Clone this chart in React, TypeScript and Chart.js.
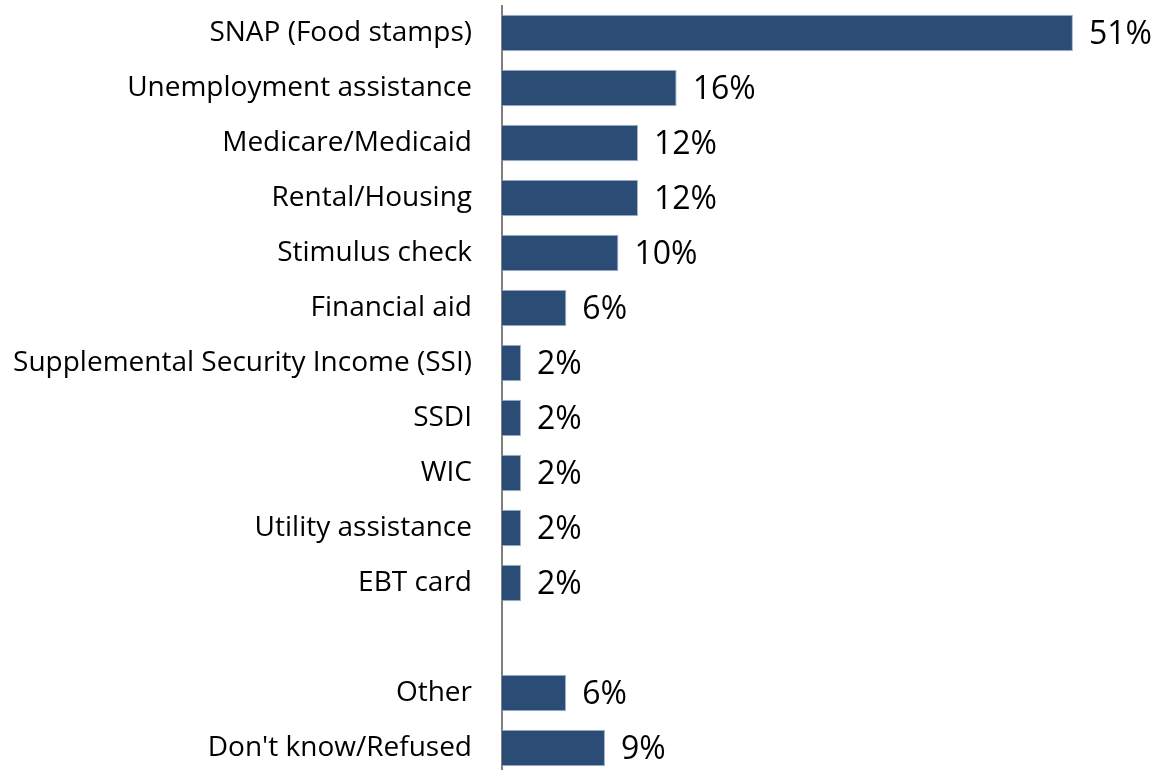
import React, { useEffect, useRef } from "react";
import { Chart, registerables } from "chart.js";

Chart.register(...registerables);

const categories: string[] = [
  "SNAP (Food stamps)",
  "Unemployment assistance",
  "Medicare/Medicaid",
  "Rental/Housing",
  "Stimulus check",
  "Financial aid",
  "Supplemental Security Income (SSI)",
  "SSDI",
  "WIC",
  "Utility assistance",
  "EBT card",
  "",
  "Other",
  "Don't know/Refused",
];

const values: (number | null)[] = [51, 15.6, 12.15, 12.15, 10.4, 5.75, 1.7, 1.7, 1.7, 1.7, 1.7, null, 5.73, 9.2];

const axisMin = 0;
const axisMax = 58.6;

const FONT = "'Open Sans', 'Noto Sans', sans-serif";

const dataLabelPlugin = {
  id: "dataLabels",
  afterDatasetsDraw(chart: any) {
    const { ctx } = chart;
    const meta = chart.getDatasetMeta(0);
    ctx.save();
    ctx.font = `32px ${FONT}`;
    ctx.fillStyle = "#000000";
    ctx.textAlign = "left";
    ctx.textBaseline = "middle";
    meta.data.forEach((bar: any, i: number) => {
      const v = values[i];
      if (v === null || v === undefined) return;
      ctx.fillText(`${Math.round(v)}%`, bar.x + 16, bar.y + 2);
    });
    ctx.restore();
  },
};

export default function App() {
  const canvasRef = useRef<HTMLCanvasElement | null>(null);

  useEffect(() => {
    if (!canvasRef.current) return;
    const chart = new Chart(canvasRef.current, {
      type: "bar",
      data: {
        labels: categories,
        datasets: [
          {
            data: values as any,
            backgroundColor: "#2B4C74",
            borderColor: "#A3B6CF",
            borderWidth: 1,
            barPercentage: 0.66,
            categoryPercentage: 1,
          },
        ],
      },
      options: {
        indexAxis: "y",
        responsive: false,
        animation: false,
        layout: { padding: { top: 5.5, bottom: 4.5, left: 0, right: 0 } },
        plugins: {
          legend: { display: false },
          tooltip: { enabled: false },
          title: { display: false },
        },
        scales: {
          x: {
            display: false,
            min: axisMin,
            max: axisMax,
          },
          y: {
            grid: { display: false, drawTicks: false },
            border: { display: true, color: "#7F7F7F", width: 2 },
            ticks: {
              color: "#000000",
              padding: 30,
              autoSkip: false,
              font: { family: FONT, size: 28 },
            },
            afterFit(scale: any) {
              scale.width = 502;
              scale.paddingTop = 0;
              scale.paddingBottom = 0;
            },
          },
        },
      },
      plugins: [dataLabelPlugin],
    });
    return () => chart.destroy();
  }, []);

  return (
    <div
      style={{
        position: "fixed",
        left: 0,
        top: 0,
        width: 1158,
        height: 770,
        overflow: "hidden",
        background: "#ffffff",
      }}
    >
      <canvas ref={canvasRef} width={1158} height={780} style={{ display: "block" }} />
    </div>
  );
}
